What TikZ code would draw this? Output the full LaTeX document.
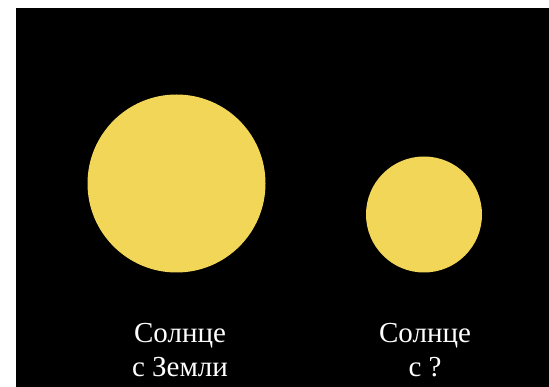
\documentclass[tikz,border=0pt]{standalone}
\usepackage{fontspec}
\setmainfont{Liberation Serif}
\usepackage{tikz}
\definecolor{sunyellow}{RGB}{242,214,88}
\tikzset{
    sun/.style={circle, fill=sunyellow, inner sep=0pt, outer sep=0pt},
    sunlabel/.style={align=center, text=white, font=\fontsize{29}{34}\selectfont}
}

\begin{document}
\begin{tikzpicture}[x=1pt, y=-1pt]
        \useasboundingbox (0,0) rectangle (549,387);
        % background
        \fill[black] (16,8) rectangle (549,387);

        % Sun as seen from Earth
        \node[sun, minimum size=178pt] (earthsun) at (176.5,183.5) {};
        \node[sunlabel] (earthlabel) at (180,350) {Солнце\\с Земли};

        % Sun as seen from elsewhere
        \node[sun, minimum size=116pt] (othersun) at (424,214.5) {};
        \node[sunlabel] (otherlabel) at (425,350) {Солнце\\с ?};
    \end{tikzpicture}
\end{document}
